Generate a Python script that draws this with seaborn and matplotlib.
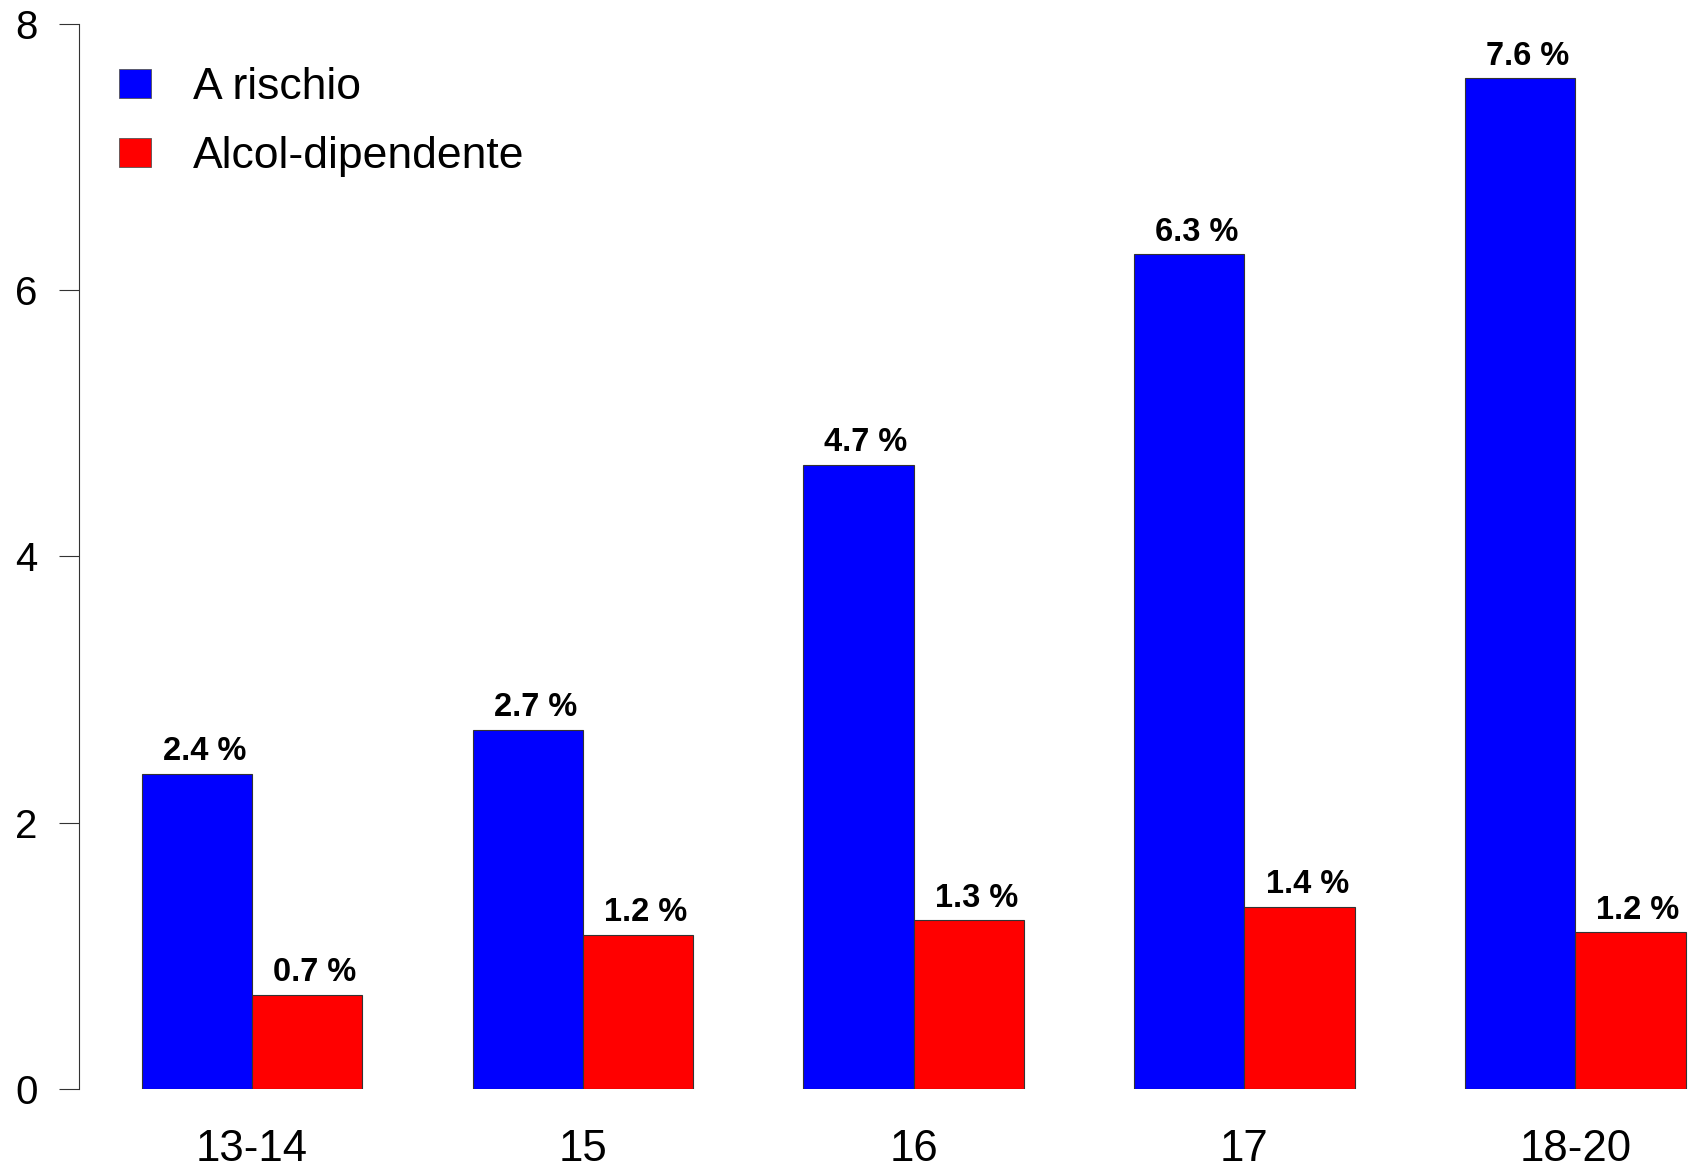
import pandas as pd
import seaborn as sns
import matplotlib.pyplot as plt
from matplotlib.patches import Patch

# Data
age_groups = ["13-14", "15", "16", "17", "18-20"]
a_rischio = [2.37, 2.70, 4.69, 6.27, 7.59]
alcol_dip = [0.71, 1.16, 1.27, 1.37, 1.18]
series_names = ["A rischio", "Alcol-dipendente"]
colors = ["#0000FF", "#FF0000"]

df = pd.DataFrame({
    "age": age_groups * 2,
    "value": a_rischio + alcol_dip,
    "series": [series_names[0]] * 5 + [series_names[1]] * 5,
})

sns.set_style("white", {"text.color": "black", "xtick.color": "black",
                        "ytick.color": "black"})
plt.rcParams["font.family"] = ["Liberation Sans", "DejaVu Sans"]

fig = plt.figure(figsize=(16.94, 11.67), dpi=100)
ax = fig.add_axes([0.0468, 0.0666, 0.9532, 0.9334])

sns.barplot(data=df, x="age", y="value", hue="series", order=age_groups,
            hue_order=series_names, palette=colors, saturation=1,
            width=2/3, errorbar=None, edgecolor="#333333", linewidth=0.8,
            legend=False, ax=ax)

# value labels above bars
for container in ax.containers:
    for bar in container:
        h = bar.get_height()
        ax.annotate(f"{h:.1f} %", (bar.get_x() + bar.get_width() / 2, h),
                    xytext=(5.5, 9.6), textcoords="offset points",
                    ha="center", va="baseline", fontsize=23.5,
                    fontweight="bold", color="black")

ax.set_xlim(-0.522, 4.359)
ax.set_ylim(0, 8.178)
ax.set_yticks([0, 2, 4, 6, 8])
ax.set_xlabel("")
ax.set_ylabel("")

sns.despine(ax=ax, top=True, right=True, bottom=True)
ax.spines["left"].set_bounds(0, 8)
ax.spines["left"].set_color("#333333")
ax.spines["left"].set_linewidth(0.8)
ax.tick_params(axis="y", length=14.4, width=0.8, color="#333333", pad=15.5,
               labelsize=29, left=True, labelcolor="black")
ax.tick_params(axis="x", length=0, pad=28.5, labelsize=31.5, labelcolor="black")

handles = [Patch(facecolor=c, edgecolor="#555555", linewidth=0.6) for c in colors]
ax.legend(handles, series_names, loc="upper left",
          bbox_to_anchor=(119 / 1694, 1 - 67.4 / 1167),
          bbox_transform=fig.transFigure, frameon=False, fontsize=32,
          handlelength=0.73, handleheight=0.61, handletextpad=0.93,
          labelspacing=0.63, borderpad=0, borderaxespad=0,
          labelcolor="black")

fig.savefig("out.png", dpi=100)
